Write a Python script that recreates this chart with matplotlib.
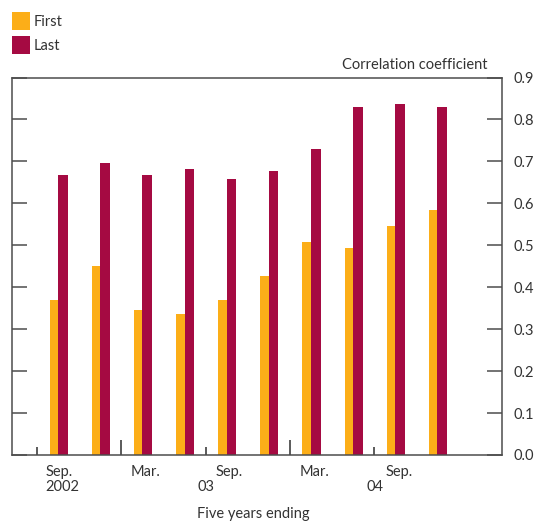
import matplotlib
matplotlib.use('Agg')
import matplotlib.pyplot as plt
from matplotlib.patches import Patch
from matplotlib.ticker import FixedLocator

plt.rcParams['font.family'] = ['Lato', 'DejaVu Sans']
plt.rcParams['font.size'] = 10.5

# quarterly five-year windows
quarters = ['Sep. 2002', 'Dec. 2002', 'Mar. 2003', 'Jun. 2003', 'Sep. 2003',
            'Dec. 2003', 'Mar. 2004', 'Jun. 2004', 'Sep. 2004', 'Dec. 2004']
first = [0.369, 0.450, 0.345, 0.336, 0.369, 0.426, 0.507, 0.493, 0.545, 0.583]
last = [0.667, 0.695, 0.667, 0.681, 0.657, 0.676, 0.729, 0.829, 0.838, 0.829]

month_labels = ['Sep.', 'Mar.', 'Sep.', 'Mar.', 'Sep.']
year_labels = ['2002', '03', '04']

orange = '#FCAE18'
crimson = '#A50A42'
axis_col = '#4d4d4d'
text_col = '#333333'

fig = plt.figure(figsize=(5.38, 5.22), dpi=100)
ax = fig.add_axes([0.0223, 0.1284, 0.9107, 0.7231])

x = list(range(len(quarters)))
ax.bar([i - 0.1 for i in x], first, width=0.2, color=orange, linewidth=0)
ax.bar([i + 0.115 for i in x], last, width=0.23, color=crimson, linewidth=0)

ax.set_xlim(-1.1, 10.54)
ax.set_ylim(0, 0.9)

for s in ax.spines.values():
    s.set_color(axis_col)
    s.set_linewidth(1.1)

# y axis: labels on right, inward ticks on both sides
ax.set_yticks([i / 10 for i in range(10)])
ax.yaxis.set_major_formatter(plt.FuncFormatter(lambda v, p: '%.1f' % v))
ax.tick_params(axis='y', direction='in', length=11, width=1.1, color=axis_col,
               left=True, right=True, labelleft=False, labelright=True,
               pad=8, labelcolor=text_col, labelsize=10.5)

# x axis: tall ticks at year ends, short ones at mid-years
ax.xaxis.set_major_locator(FixedLocator([1.5, 5.5]))
ax.xaxis.set_minor_locator(FixedLocator([-0.5, 3.5, 7.5]))
ax.tick_params(axis='x', which='major', direction='in', length=11, width=1.3,
               color=axis_col, labelbottom=False)
ax.tick_params(axis='x', which='minor', direction='in', length=5.5, width=1.3,
               color=axis_col, labelbottom=False)

trans = ax.get_xaxis_transform()
for pos, lab in zip([0.02, 2.07, 4.05, 6.08, 8.1], month_labels):
    ax.text(pos, -0.045, lab, transform=trans, ha='center', va='center',
            color=text_col)
for pos, lab in zip([0.09, 3.5, 7.52], year_labels):
    ax.text(pos, -0.085, lab, transform=trans, ha='center', va='center',
            color=text_col)

fig.text(0.47, 1 - 514 / 522, 'Five years ending', ha='center', va='center',
         color=text_col)
fig.text(487 / 538, 1 - 65 / 522, 'Correlation coefficient', ha='right',
         va='center', color=text_col)

handles = [Patch(facecolor=orange, edgecolor='none', label='First'),
           Patch(facecolor=crimson, edgecolor='none', label='Last')]
leg = fig.legend(handles=handles, loc='upper left',
                 bbox_to_anchor=(12 / 538, 1 - 12 / 522), frameon=False,
                 handlelength=1.23, handleheight=1.52, handletextpad=0.25,
                 labelspacing=0.41, borderpad=0, borderaxespad=0)
for t in leg.get_texts():
    t.set_color(text_col)

fig.savefig('out.png', dpi=100)
